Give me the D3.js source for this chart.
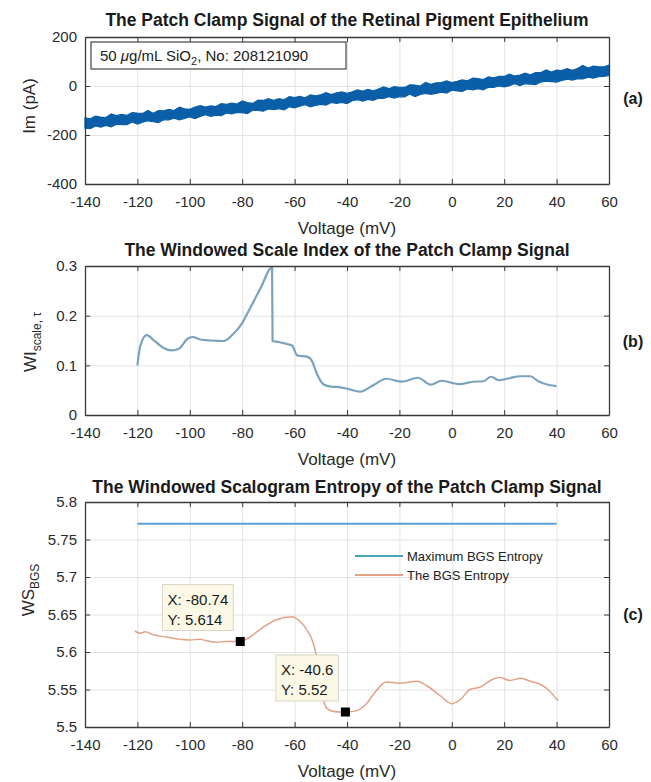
<!DOCTYPE html>
<html><head><meta charset="utf-8">
<script src="https://cdn.jsdelivr.net/npm/d3@7"></script>
<style>body{margin:0;background:#fff}svg{display:block;font-family:"Liberation Sans",Arial,Helvetica,sans-serif}</style>
</head><body><svg id="chart" width="651" height="782"></svg>
<script>
// ---------- data ----------
const voltageTicks = [-140,-120,-100,-80,-60,-40,-20,0,20,40,60];
const imTicks = [-400,-200,0,200];
const wiTicks = [0,0.1,0.2,0.3];
const wsTicks = [5.5,5.55,5.6,5.65,5.7,5.75,5.8];

// panel (a): patch clamp current envelope (pA)
const voltA = [-140,-138,-136,-134,-132,-130,-128,-126,-124,-122,-120,-118,-116,-114,-112,-110,-108,-106,-104,-102,-100,-98,-96,-94,-92,-90,-88,-86,-84,-82,-80,-78,-76,-74,-72,-70,-68,-66,-64,-62,-60,-58,-56,-54,-52,-50,-48,-46,-44,-42,-40,-38,-36,-34,-32,-30,-28,-26,-24,-22,-20,-18,-16,-14,-12,-10,-8,-6,-4,-2,0,2,4,6,8,10,12,14,16,18,20,22,24,26,28,30,32,34,36,38,40,42,44,46,48,50,52,54,56,58,60];
const imHigh = [-130,-134,-123,-127,-129,-114,-121,-116,-120,-109,-111,-112,-100,-111,-100,-101,-95,-100,-86,-93,-95,-86,-80,-86,-81,-84,-72,-75,-70,-74,-61,-68,-71,-58,-59,-52,-58,-52,-56,-43,-47,-42,-48,-36,-40,-36,-27,-35,-28,-24,-30,-24,-16,-21,-14,-20,-12,-4,-11,-3,-5,-6,5,4,0,15,7,13,14,21,14,19,25,21,32,30,26,37,33,39,39,48,41,45,53,46,55,55,66,57,65,63,71,64,71,84,73,81,79,78,85];
const imLow = [-172,-174,-163,-168,-161,-167,-156,-158,-158,-147,-156,-148,-142,-146,-149,-138,-138,-131,-138,-132,-126,-133,-124,-117,-124,-119,-121,-110,-114,-108,-109,-113,-99,-100,-103,-94,-97,-93,-97,-85,-89,-82,-76,-85,-79,-75,-78,-67,-71,-67,-72,-60,-56,-62,-55,-59,-50,-51,-44,-50,-44,-44,-33,-43,-34,-30,-34,-30,-25,-29,-17,-20,-22,-12,-16,-11,-16,-5,-6,0,-4,1,9,2,9,8,6,16,20,18,16,23,28,24,30,29,36,32,38,39,43];

// panel (b): windowed scale index
const voltB = [-120,-119,-116.5,-113,-110,-107,-104,-101,-99,-96,-92,-87,-84,-80,-77,-73,-68.6,-68.4,-66,-63,-61,-59,-55,-53.5,-51.5,-49,-46,-43,-40,-35,-30,-25,-19,-13,-8,-4,3,8,12,15,18,22,26,30,33,36,40];
const wiScale = [0.1,0.137,0.161,0.147,0.135,0.13,0.134,0.153,0.157,0.152,0.15,0.149,0.16,0.185,0.215,0.255,0.297,0.149,0.147,0.143,0.14,0.12,0.117,0.11,0.083,0.062,0.057,0.056,0.053,0.047,0.06,0.073,0.067,0.075,0.061,0.069,0.062,0.067,0.068,0.077,0.07,0.074,0.078,0.078,0.068,0.062,0.058];

// panel (c): windowed scalogram entropy
const voltC = [-121,-119,-117,-114,-109,-104,-100,-96,-93.5,-90,-86,-80.74,-77.5,-72,-67,-61,-58,-55,-53,-52,-50,-48.4,-46.5,-43,-40.6,-36.5,-32.6,-28.7,-25,-20,-13.4,-9.6,-4.5,0,3.7,6.9,10.7,15.8,18.4,22.2,26.4,30,33,36,40.6];
const wsBGS = [5.628,5.625,5.627,5.623,5.620,5.617,5.616,5.617,5.615,5.613,5.614,5.614,5.619,5.633,5.643,5.647,5.641,5.628,5.613,5.600,5.560,5.529,5.522,5.520,5.520,5.5215,5.531,5.549,5.560,5.5585,5.561,5.555,5.542,5.531,5.538,5.550,5.553,5.564,5.566,5.562,5.565,5.561,5.558,5.552,5.535];
const maxBGSVolt = [-120,40];
const maxBGSValue = [5.771,5.771];
const dataTips = [{v:-80.74,w:5.614,lx:"X: -80.74",ly:"Y: 5.614"},{v:-40.6,w:5.52,lx:"X: -40.6",ly:"Y: 5.52"}];

// ---------- layout ----------
const svg = d3.select("#chart");
const L = 85, R = 609;
const x = d3.scaleLinear().domain([-140,60]).range([L,R]);
const gridCol = "#e3e3e3", boxCol = "#3a3a3a", txtCol = "#2a2a2a";

function panel(o){
  const y = d3.scaleLinear().domain(o.domain).range([o.bottom,o.top]);
  const g = svg.append("g");
  // grid
  g.append("g").attr("transform",`translate(0,${o.bottom})`)
    .call(d3.axisBottom(x).tickValues(voltageTicks).tickSize(-(o.bottom-o.top)).tickFormat(""))
    .call(s=>{s.select(".domain").remove();s.selectAll("line").attr("stroke",gridCol);});
  g.append("g").attr("transform",`translate(${L},0)`)
    .call(d3.axisLeft(y).tickValues(o.ticks).tickSize(-(R-L)).tickFormat(""))
    .call(s=>{s.select(".domain").remove();s.selectAll("line").attr("stroke",gridCol);});
  o.draw(g,y);
  // box + ticks
  const ax = (gen, tr, labels) => {
    const a = g.append("g").attr("transform",tr).call(gen);
    a.select(".domain").attr("stroke",boxCol).attr("stroke-width",1.3);
    a.selectAll(".tick line").attr("stroke",boxCol).attr("stroke-width",1);
    a.selectAll("text").attr("fill",txtCol).style("font-size","15px")
      .style("font-family",'"Liberation Sans",Arial,sans-serif');
    if(!labels) a.selectAll("text").remove();
    return a;
  };
  ax(d3.axisBottom(x).tickValues(voltageTicks).tickSizeInner(-5).tickSizeOuter(0).tickPadding(12).tickFormat(d=>String(d)),`translate(0,${o.bottom})`,true);
  ax(d3.axisTop(x).tickValues(voltageTicks).tickSizeInner(-5).tickSizeOuter(0),`translate(0,${o.top})`,false);
  ax(d3.axisLeft(y).tickValues(o.ticks).tickSizeInner(-5).tickSizeOuter(0).tickPadding(8).tickFormat(d=>String(d)),`translate(${L},0)`,true);
  ax(d3.axisRight(y).tickValues(o.ticks).tickSizeInner(-5).tickSizeOuter(0),`translate(${R},0)`,false);
  // title
  g.append("text").attr("x",(L+R)/2).attr("y",o.titleY).attr("text-anchor","middle")
    .attr("font-weight","bold").attr("font-size","17.5px").attr("fill","#1a1a1a").text(o.title);
  // x label
  g.append("text").attr("x",(L+R)/2).attr("y",o.bottom+50).attr("text-anchor","middle")
    .attr("font-size","17px").attr("fill",txtCol).text("Voltage (mV)");
  // panel letter
  g.append("text").attr("x",633).attr("y",o.letterY).attr("text-anchor","middle")
    .attr("font-weight","bold").attr("font-size","16px").attr("fill","#1a1a1a").text(o.letter);
  // y label
  const yl = g.append("text").attr("transform",`translate(${o.ylabX},${o.ylabY})`+" rotate(-90)")
    .attr("text-anchor","middle").attr("font-size","17px").attr("fill",txtCol);
  o.ylab(yl);
  return y;
}

// (a)
panel({top:37,bottom:184,domain:[-400,200],ticks:imTicks,title:"The Patch Clamp Signal of the Retinal Pigment Epithelium",
  titleY:26,letter:"(a)",letterY:104,ylabX:35,ylabY:106,
  ylab:t=>t.text("Im (pA)"),
  draw:(g,y)=>{
    const area = d3.area().x((d,i)=>x(voltA[i])).y0((d,i)=>y(imLow[i])).y1((d,i)=>y(imHigh[i]));
    g.append("path").datum(voltA).attr("d",area).attr("fill","#0b5fa8").attr("stroke","#0b5fa8").attr("stroke-width",1.2);
    // annotation box
    g.append("rect").attr("x",91).attr("y",42).attr("width",255).attr("height",27)
      .attr("fill","#fff").attr("stroke","#444").attr("stroke-width",1.2);
    const t = g.append("text").attr("x",100).attr("y",61).attr("font-size","15px").attr("fill","#222");
    t.append("tspan").text("50 ");
    t.append("tspan").attr("font-style","italic").text("μ");
    t.append("tspan").text("g/mL SiO");
    t.append("tspan").attr("font-size","11px").attr("dy",4).text("2");
    t.append("tspan").attr("dy",-4).text(", No: 208121090");
  }});

// (b)
panel({top:266,bottom:415,domain:[0,0.3],ticks:wiTicks,title:"The Windowed Scale Index of the Patch Clamp Signal",
  titleY:256,letter:"(b)",letterY:347,ylabX:36,ylabY:342,
  ylab:t=>{t.append("tspan").text("WI");t.append("tspan").attr("font-size","12px").attr("dy",5).text("scale, τ");},
  draw:(g,y)=>{
    const line = d3.line().x((d,i)=>x(voltB[i])).y((d,i)=>y(wiScale[i])).curve(d3.curveMonotoneX);
    g.append("path").datum(voltB).attr("d",line).attr("fill","none").attr("stroke","#7aa3be").attr("stroke-width",2.2);
  }});

// (c)
panel({top:502,bottom:727,domain:[5.5,5.8],ticks:wsTicks,title:"The Windowed Scalogram Entropy of the Patch Clamp Signal",
  titleY:493,letter:"(c)",letterY:620,ylabX:34,ylabY:590,
  ylab:t=>{t.append("tspan").text("WS");t.append("tspan").attr("font-size","12px").attr("dy",5).text("BGS");},
  draw:(g,y)=>{
    g.append("path").datum(maxBGSVolt).attr("d",d3.line().x(d=>x(d)).y((d,i)=>y(maxBGSValue[i])))
      .attr("stroke","#5e9fd6").attr("stroke-width",2.2).attr("fill","none");
    const line = d3.line().x((d,i)=>x(voltC[i])).y((d,i)=>y(wsBGS[i])).curve(d3.curveMonotoneX);
    g.append("path").datum(voltC).attr("d",line).attr("fill","none").attr("stroke","#e2a286").attr("stroke-width",1.5);
    // legend
    const lg = [{c:"#4aa3b8",t:"Maximum BGS Entropy",yy:556},{c:"#e2a286",t:"The BGS Entropy",yy:575}];
    lg.forEach(d=>{
      g.append("line").attr("x1",355).attr("x2",403).attr("y1",d.yy).attr("y2",d.yy).attr("stroke",d.c).attr("stroke-width",1.8);
      g.append("text").attr("x",407).attr("y",d.yy+4.5).attr("font-size","13px").attr("fill","#222").text(d.t);
    });
    // data tips
    dataTips.forEach(d=>{
      const px = x(d.v), py = y(d.w);
      const tg = g.append("g");
      const t1 = tg.append("text").attr("font-size","15px").attr("fill","#1a1a1a").text(d.lx);
      const t2 = tg.append("text").attr("font-size","15px").attr("fill","#1a1a1a").text(d.ly);
      const w = Math.max(t1.node().getComputedTextLength(),t2.node().getComputedTextLength())+10;
      const right = px-7, bottom = py-11, h = 46;
      tg.insert("rect","text").attr("x",right-w).attr("y",bottom-h).attr("width",w).attr("height",h)
        .attr("fill","#fbf8e6").attr("stroke","#d9d6c8").attr("stroke-width",1);
      t1.attr("x",right-w+5).attr("y",bottom-26);
      t2.attr("x",right-w+5).attr("y",bottom-6);
      g.append("rect").attr("x",px-4.5).attr("y",py-4.5).attr("width",9).attr("height",9).attr("fill","#000");
    });
  }});
</script></body></html>
